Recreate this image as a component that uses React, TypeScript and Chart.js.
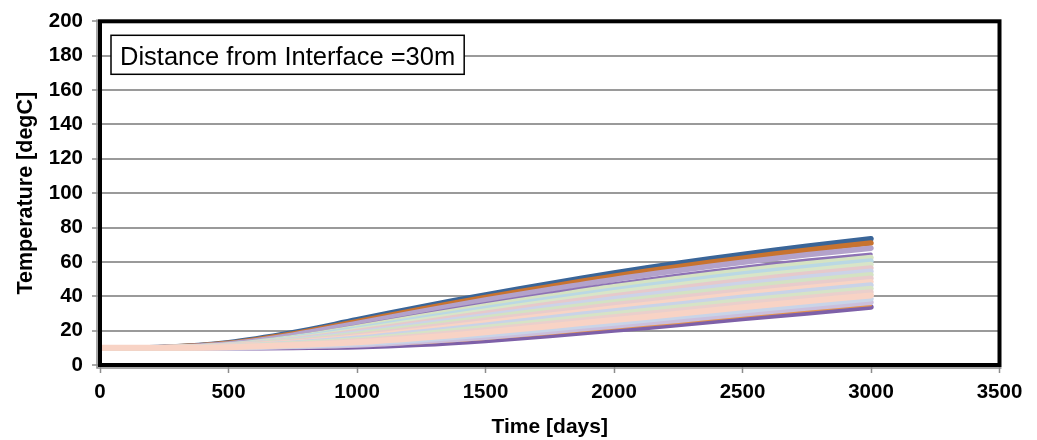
import React, { useEffect, useRef } from "react";
import { Chart, registerables } from "chart.js";

Chart.register(...registerables);

// Time axis samples [days]
const days = [0, 250, 500, 750, 1000, 1250, 1500, 1750, 2000, 2250, 2500, 2750, 3000];

// Temperature histories [degC], one array per curve, from warmest to coolest
const tempA = [10, 10.3, 13.0, 18.8, 26.3, 33.8, 40.8, 47.3, 53.5, 59.2, 64.3, 69.1, 73.5];
const tempB = [10, 10.2, 12.6, 18.1, 25.2, 32.5, 39.3, 45.6, 51.7, 57.2, 62.2, 66.8, 71.0];
const tempC = [10, 10.2, 12.3, 17.4, 24.2, 31.2, 37.8, 43.9, 49.8, 55.0, 59.8, 64.1, 68.0];
const tempD = [10, 10.1, 11.8, 16.4, 22.6, 29.3, 35.7, 41.6, 47.2, 52.2, 56.8, 60.9, 64.5];
const tempE = [10, 10, 11.6, 15.9, 21.8, 28.2, 34.3, 40.0, 45.5, 50.3, 54.9, 58.9, 62.5];
const tempF = [10, 10, 11.5, 15.5, 21.0, 27.1, 32.9, 38.4, 43.7, 48.5, 52.9, 56.9, 60.5];
const tempG = [10, 10, 11.4, 15.1, 20.2, 25.9, 31.5, 36.8, 42.0, 46.6, 51.0, 54.9, 58.5];
const tempH = [10, 10, 11.3, 14.7, 19.5, 24.8, 30.1, 35.3, 40.2, 44.7, 49.1, 52.9, 56.5];
const tempI = [10, 10, 11.2, 14.3, 18.7, 23.7, 28.7, 33.7, 38.5, 42.9, 47.1, 51.0, 54.5];
const tempJ = [10, 10, 11.1, 13.9, 17.9, 22.6, 27.4, 32.1, 36.7, 41.0, 45.2, 49.0, 52.5];
const tempK = [10, 10, 11.0, 13.5, 17.1, 21.4, 26.0, 30.5, 35.0, 39.1, 43.2, 47.0, 50.5];
const tempL = [10, 10, 10.9, 13.1, 16.3, 20.3, 24.6, 28.9, 33.2, 37.3, 41.3, 45.0, 48.5];
const tempM = [10, 10, 10.8, 12.7, 15.5, 19.2, 23.2, 27.4, 31.5, 35.4, 39.4, 43.0, 46.5];
const tempN = [10, 10, 10.6, 12.3, 14.7, 18.1, 21.8, 25.8, 29.7, 33.6, 37.5, 41.0, 44.5];
const tempO = [10, 10, 10.5, 11.9, 14.0, 16.9, 20.4, 24.2, 28.0, 31.7, 35.5, 39.1, 42.5];
const tempP = [10, 10, 10.4, 11.5, 13.2, 15.8, 19.0, 22.6, 26.2, 29.8, 33.6, 37.1, 40.5];
const tempQ = [10, 10, 10.2, 11.1, 12.4, 14.7, 17.6, 21.0, 24.5, 28.0, 31.6, 35.1, 38.5];
const tempR = [10, 10, 10.1, 10.7, 11.6, 13.6, 16.2, 19.4, 22.7, 26.1, 29.7, 33.1, 36.5];
const tempS = [10, 10, 10.1, 10.4, 11.0, 12.6, 15.1, 18.1, 21.3, 24.5, 28.1, 31.4, 34.8];
const tempT = [10, 10, 10.0, 10.2, 10.6, 12.0, 14.3, 17.2, 20.3, 23.5, 27.0, 30.3, 33.7];

// Drawing sequence (first entry painted first, last entry on top) with line colours
const drawSequence = [
  tempT, tempS, tempR, tempQ, tempA, tempB, tempC, tempD, tempE, tempF,
  tempG, tempH, tempI, tempJ, tempK, tempL, tempM, tempN, tempO, tempP,
];
const lineColors = [
  "#7E60A8", "#E3934F", "#CBBFDC", "#C8D4E8", "#3A6598", "#C8732F", "#B3A2CB", "#8D72B5", "#D5E3C2", "#BAD8E4",
  "#D8E5C8", "#E6C9CB", "#CCD3E8", "#D3E2C3", "#E8CCCC", "#F8D4C5", "#C9D3E8", "#D6E3C6", "#EACFCC", "#F8D3C5",
];
const lineWidths = [5.5, 2, 5.5, 5.5, 5.5, 5.5, 5.5, 3.5, 5.5, 5.5, 5.5, 5.5, 5.5, 5.5, 5.5, 5.5, 5.5, 5.5, 5.5, 6];

const xTicks = { min: 0, max: 3500, step: 500 };
const yTicks = { min: 0, max: 200, step: 20 };
const noteText = "Distance from Interface =30m";

const FONT = "'Liberation Sans', Arial, Helvetica, sans-serif";

const notePlugin = {
  id: "noteBox",
  beforeDatasetsDraw(chart: any) {
    const { ctx, chartArea } = chart;
    const x = chartArea.left + 11;
    const y = chartArea.top + 14;
    ctx.save();
    ctx.font = `25.5px ${FONT}`;
    const w = ctx.measureText(noteText).width + 18;
    const h = 39;
    ctx.fillStyle = "#fff";
    ctx.fillRect(x, y, w, h);
    ctx.strokeStyle = "#000";
    ctx.lineWidth = 1.5;
    ctx.strokeRect(x, y, w, h);
    ctx.fillStyle = "#000";
    ctx.textBaseline = "alphabetic";
    ctx.fillText(noteText, x + 9, y + 30);
    ctx.restore();
  },
};

const framePlugin = {
  id: "plotFrame",
  afterDraw(chart: any) {
    const { ctx, chartArea } = chart;
    const { left, top, right, bottom } = chartArea;
    ctx.save();
    ctx.strokeStyle = "#8c8c8c";
    ctx.lineWidth = 1.5;
    ctx.beginPath();
    ctx.moveTo(left - 3, top - 2);
    ctx.lineTo(left - 3, bottom + 3);
    ctx.lineTo(right + 2, bottom + 3);
    ctx.stroke();
    ctx.strokeStyle = "#000";
    ctx.lineWidth = 4;
    ctx.strokeRect(left, top, right - left, bottom - top);
    ctx.restore();
  },
};

export default function App() {
  const canvasRef = useRef<HTMLCanvasElement | null>(null);

  useEffect(() => {
    const canvas = canvasRef.current;
    if (!canvas) return;
    Chart.defaults.font.family = FONT;

    const datasets = drawSequence.map((temps, i) => ({
      label: `curve ${i + 1}`,
      data: days.map((d, k) => ({ x: d, y: temps[k] })),
      borderColor: lineColors[i],
      backgroundColor: lineColors[i],
      borderWidth: lineWidths[i],
      borderCapStyle: "round" as const,
      borderJoinStyle: "round" as const,
      pointRadius: 0,
      fill: false,
      tension: 0.35,
      order: drawSequence.length - i,
    }));

    const chart = new Chart(canvas, {
      type: "line",
      data: { datasets },
      plugins: [notePlugin, framePlugin],
      options: {
        animation: false,
        responsive: false,
        maintainAspectRatio: false,
        layout: { padding: { left: 0, top: 19.5, right: 37.5, bottom: 0 } },
        plugins: {
          legend: { display: false },
          tooltip: { enabled: false },
        },
        scales: {
          x: {
            type: "linear",
            min: xTicks.min,
            max: xTicks.max,
            afterFit(scale: any) {
              scale.height = 75;
            },
            ticks: {
              stepSize: xTicks.step,
              color: "#000",
              padding: 7,
              font: { size: 20.5, weight: "bold" },
              callback: (v: any) => String(v),
            },
            grid: {
              drawOnChartArea: false,
              drawTicks: true,
              tickLength: 8,
              tickColor: "#8c8c8c",
              tickWidth: 1.5,
            },
            border: { display: true, color: "#8c8c8c", width: 1.5 },
            title: {
              display: true,
              text: "Time [days]",
              color: "#000",
              font: { size: 21, weight: "bold" },
              padding: { top: 0, bottom: 0 },
            },
          },
          y: {
            min: yTicks.min,
            max: yTicks.max,
            afterFit(scale: any) {
              scale.width = 100;
            },
            ticks: {
              stepSize: yTicks.step,
              color: "#000",
              padding: 9,
              font: { size: 20.5, weight: "bold" },
              callback: (v: any) => String(v),
            },
            grid: {
              color: "#9a9a9a",
              lineWidth: 2,
              drawTicks: true,
              tickLength: 8,
              tickColor: "#8c8c8c",
              tickWidth: 1.5,
            },
            border: { display: true, color: "#8c8c8c", width: 1.5 },
            title: {
              display: true,
              text: "Temperature [degC]",
              color: "#000",
              font: { size: 21.5, weight: "bold" },
              padding: { top: 13, bottom: 0 },
            },
          },
        },
      },
    });

    return () => chart.destroy();
  }, []);

  return (
    <div style={{ position: "fixed", left: 0, top: 0, width: 1037, height: 440, background: "#fff" }}>
      <canvas ref={canvasRef} width={1037} height={440} style={{ display: "block" }} />
    </div>
  );
}
